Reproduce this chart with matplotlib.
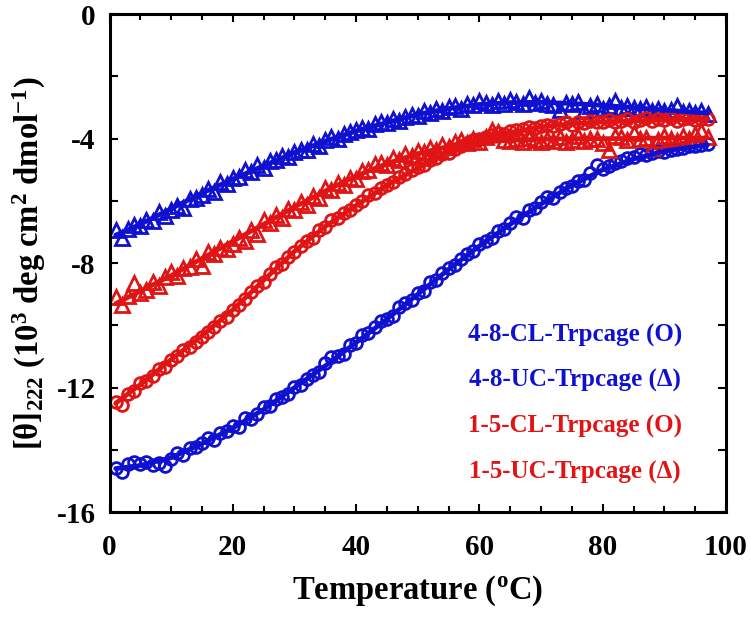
import numpy as np
import matplotlib
matplotlib.use('Agg')
import matplotlib.pyplot as plt
from matplotlib.ticker import MultipleLocator

plt.rcParams['font.family'] = 'Liberation Serif'
plt.rcParams['font.weight'] = 'bold'
plt.rcParams['mathtext.fontset'] = 'custom'
plt.rcParams['mathtext.rm'] = 'Liberation Serif:bold'
plt.rcParams['mathtext.it'] = 'Liberation Serif:bold'
plt.rcParams['mathtext.bf'] = 'Liberation Serif:bold'
plt.rcParams['axes.unicode_minus'] = False

# Temperature grid of the measured points (deg C)
temp = [1, 2, 3, 4, 5, 6, 7, 8, 9, 10, 11, 12, 13, 14, 15, 16, 17, 18, 19, 20,
        21, 22, 23, 24, 25, 26, 27, 28, 29, 30, 31, 32, 33, 34, 35, 36, 37, 38, 39, 40,
        41, 42, 43, 44, 45, 46, 47, 48, 49, 50, 51, 52, 53, 54, 55, 56, 57, 58, 59, 60,
        61, 62, 63, 64, 65, 66, 67, 68, 69, 70, 71, 72, 73, 74, 75, 76, 77, 78, 79, 80,
        81, 82, 83, 84, 85, 86, 87, 88, 89, 90, 91, 92, 93, 94, 95, 96, 97]

# measured [theta]222 (10^3 deg cm2 dmol-1)
cl_48 = [-14.58, -14.70, -14.45, -14.40, -14.45, -14.38, -14.50, -14.42, -14.52, -14.30,
         -14.10, -14.18, -13.95, -13.92, -13.78, -13.62, -13.68, -13.45, -13.40, -13.22,
         -13.25, -12.98, -13.00, -12.85, -12.62, -12.60, -12.38, -12.30, -12.20, -11.98,
         -11.90, -11.72, -11.60, -11.50, -11.22, -11.02, -10.98, -10.92, -10.62, -10.58,
         -10.30, -10.25, -10.05, -9.85, -9.78, -9.70, -9.42, -9.28, -9.20, -8.95,
         -8.90, -8.62, -8.55, -8.32, -8.15, -8.05, -7.88, -7.70, -7.62, -7.40,
         -7.28, -7.20, -6.98, -6.90, -6.72, -6.52, -6.55, -6.30, -6.22, -6.05,
         -5.88, -5.90, -5.72, -5.58, -5.52, -5.35, -5.32, -5.10, -4.85, -4.98,
         -4.88, -4.78, -4.72, -4.62, -4.60, -4.50, -4.52, -4.45, -4.40, -4.42,
         -4.35, -4.32, -4.30, -4.25, -4.22, -4.20, -4.18]

uc_48 = [-6.95, -7.20, -6.90, -6.78, -6.82, -6.60, -6.65, -6.35, -6.50, -6.28,
         -6.15, -6.22, -5.95, -5.90, -5.80, -5.62, -5.70, -5.40, -5.45, -5.25,
         -5.22, -5.00, -5.08, -4.85, -4.95, -4.72, -4.68, -4.55, -4.60, -4.42,
         -4.35, -4.38, -4.18, -4.22, -4.05, -3.95, -4.02, -3.85, -3.80, -3.72,
         -3.65, -3.70, -3.52, -3.48, -3.50, -3.38, -3.42, -3.30, -3.25, -3.28,
         -3.10, -3.18, -3.05, -3.12, -2.98, -2.95, -3.05, -2.88, -2.92, -2.78,
         -2.85, -2.92, -2.80, -2.88, -2.75, -2.82, -2.90, -2.70, -2.85, -2.80,
         -2.88, -2.92, -3.08, -2.85, -2.90, -2.82, -3.12, -2.95, -2.88, -3.05,
         -2.95, -2.80, -3.00, -2.95, -3.02, -3.05, -2.98, -3.10, -3.05, -3.12,
         -3.08, -2.95, -3.15, -3.10, -3.18, -3.12, -3.22]

cl_15 = [-12.45, -12.55, -12.20, -12.10, -11.85, -11.80, -11.62, -11.40, -11.35, -11.12,
         -10.98, -10.80, -10.70, -10.52, -10.38, -10.20, -10.05, -9.85, -9.72, -9.50,
         -9.35, -9.15, -8.92, -8.72, -8.60, -8.35, -8.12, -8.02, -7.80, -7.65,
         -7.45, -7.30, -7.18, -6.92, -6.85, -6.62, -6.55, -6.38, -6.30, -6.12,
         -6.00, -5.82, -5.75, -5.60, -5.48, -5.40, -5.22, -5.15, -5.00, -4.92,
         -4.85, -4.68, -4.62, -4.50, -4.45, -4.32, -4.25, -4.15, -4.05, -4.02,
         -3.95, -3.88, -3.82, -3.85, -3.75, -3.72, -3.68, -3.62, -3.65, -3.58,
         -3.55, -3.60, -3.52, -3.48, -3.55, -3.45, -3.50, -3.42, -3.48, -3.45,
         -3.40, -3.48, -3.42, -3.38, -3.45, -3.40, -3.35, -3.42, -3.38, -3.40,
         -3.35, -3.42, -3.38, -3.35, -3.40, -3.36, -3.38]

uc_15 = [-9.10, -9.35, -9.05, -8.65, -8.95, -8.85, -8.60, -8.72, -8.45, -8.30,
         -8.40, -8.15, -8.12, -7.88, -8.10, -7.65, -7.72, -7.50, -7.55, -7.38,
         -7.20, -7.28, -6.95, -7.05, -6.62, -6.70, -6.45, -6.55, -6.25, -6.30,
         -6.05, -6.12, -5.85, -5.90, -5.60, -5.65, -5.42, -5.50, -5.25, -5.30,
         -5.05, -5.00, -4.82, -4.78, -4.85, -4.62, -4.70, -4.50, -4.55, -4.40,
         -4.42, -4.30, -4.35, -4.20, -4.28, -4.12, -4.05, -4.15, -4.02, -4.10,
         -3.95, -3.72, -3.78, -4.05, -4.08, -4.02, -4.10, -3.98, -4.05, -4.12,
         -4.00, -4.08, -3.95, -4.10, -4.05, -3.92, -4.08, -4.02, -4.00, -4.15,
         -4.38, -3.90, -3.95, -4.05, -3.82, -4.00, -3.98, -4.30, -4.05, -3.92,
         -4.02, -4.08, -3.90, -4.02, -3.85, -3.75, -3.95]

# fitted curves
fit_temp = [1, 5, 10, 15, 20, 25, 30, 35, 40, 45, 50, 55, 60, 65, 70, 75, 80, 85, 90, 95, 97]
fit_cl_48 = [-14.6, -14.5, -14.25, -13.8, -13.3, -12.7, -12.0, -11.3, -10.55, -9.8, -9.0,
             -8.2, -7.45, -6.75, -6.1, -5.5, -5.0, -4.65, -4.4, -4.25, -4.2]
fit_uc_48 = [-7.1, -6.75, -6.25, -5.75, -5.3, -4.87, -4.45, -4.08, -3.75, -3.48, -3.22,
             -3.03, -2.9, -2.84, -2.83, -2.87, -2.93, -3.0, -3.08, -3.15, -3.18]
fit_cl_15 = [-12.5, -11.9, -11.1, -10.33, -9.5, -8.55, -7.62, -6.82, -6.15, -5.5, -4.95,
             -4.45, -4.05, -3.8, -3.62, -3.52, -3.46, -3.43, -3.4, -3.38, -3.37]
fit_uc_15 = [-9.3, -8.9, -8.4, -7.85, -7.3, -6.75, -6.2, -5.68, -5.2, -4.8, -4.48,
             -4.25, -4.12, -4.05, -4.02, -4.0, -4.0, -3.99, -3.98, -3.98, -3.98]

labels = ['4-8-CL-Trpcage (O)', '4-8-UC-Trpcage (\u0394)',
          '1-5-CL-Trpcage (O)', '1-5-UC-Trpcage (\u0394)']

blue = '#1010d0'
red = '#e01414'

fig = plt.figure(figsize=(7.5, 6.17), dpi=100)
ax = fig.add_axes([0.146, 0.170, 0.822, 0.807])

series = [(cl_48, fit_cl_48, blue, 'o'), (uc_48, fit_uc_48, blue, '^'),
          (cl_15, fit_cl_15, red, 'o'), (uc_15, fit_uc_15, red, '^')]
for vals, fit, col, mk in series:
    ax.plot(temp, vals, linestyle='none', marker=mk, markersize=8.5 if mk == 'o' else 9.5,
            markerfacecolor='none', markeredgecolor=col, markeredgewidth=2.0, zorder=2)
for vals, fit, col, mk in series:
    ax.plot(fit_temp, fit, color=col, linewidth=3.4, solid_capstyle='round', zorder=3)

ax.set_xlim(0, 100)
ax.set_ylim(-16, 0)
ax.xaxis.set_major_locator(MultipleLocator(20))
ax.xaxis.set_minor_locator(MultipleLocator(5))
ax.yaxis.set_major_locator(MultipleLocator(4))
ax.yaxis.set_minor_locator(MultipleLocator(2))
ax.tick_params(which='both', direction='in', top=True, right=True, width=1.5, labelsize=21)
ax.tick_params(axis='x', which='major', length=6, pad=16)
ax.tick_params(axis='x', which='minor', length=4)
ax.tick_params(axis='y', which='both', length=5.5, pad=10)
for sp in ax.spines.values():
    sp.set_linewidth(2.2)

ax.set_xlabel('Temperature ($^{o}$C)', fontsize=23.5, fontweight='bold', labelpad=9)
ax.set_ylabel('[\u03b8]$_{222}$ (10$^{3}$ deg cm$^{2}$ dmol$^{-1}$)', fontsize=23.5,
              fontweight='bold', labelpad=6)

cols = [blue, blue, red, red]
for i, (lab, c) in enumerate(zip(labels, cols)):
    ax.text(0.755, 0.355 - i * 0.0915, lab, color=c, fontsize=18, fontweight='bold',
            transform=ax.transAxes, ha='center', va='center')

fig.savefig('out.png', dpi=100)
